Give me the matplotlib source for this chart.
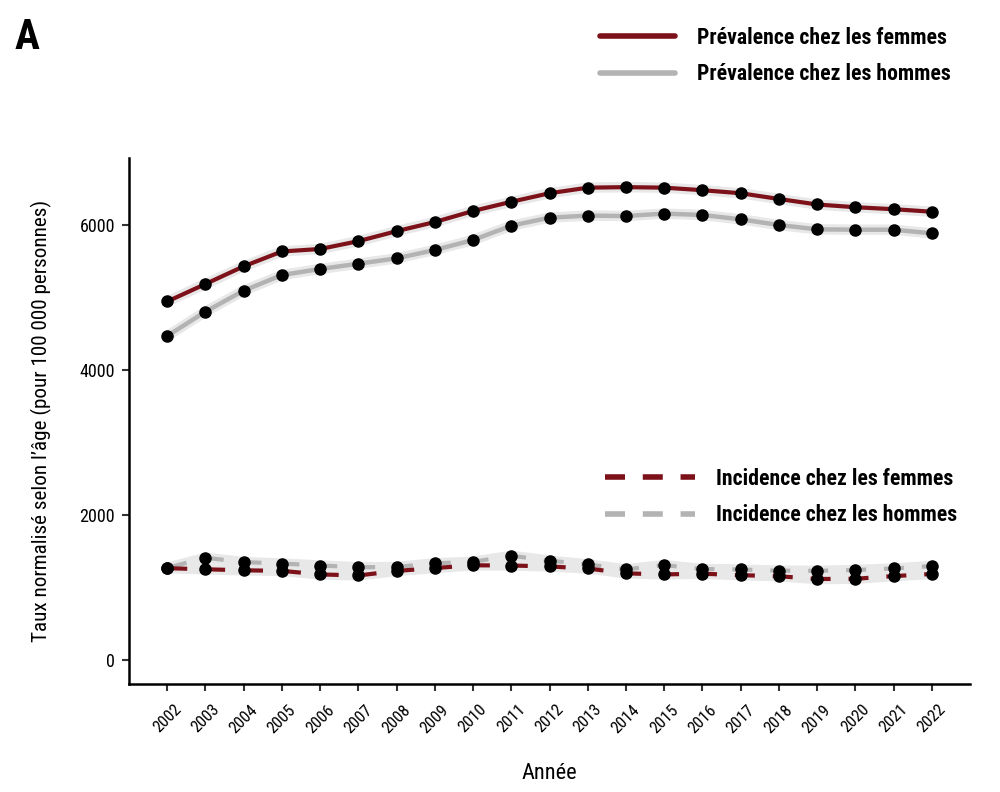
import numpy as np
import matplotlib
matplotlib.use('Agg')
import matplotlib.pyplot as plt
from matplotlib.lines import Line2D

plt.rcParams['font.family'] = ['Liberation Sans Narrow', 'Roboto Condensed',
                               'Open Sans Condensed', 'Lato', 'DejaVu Sans']

# data
years = list(range(2002, 2023))
prev_femmes = [4945, 5186, 5430, 5635, 5669, 5777, 5915, 6041, 6193, 6320, 6438,
               6515, 6522, 6515, 6480, 6438, 6359, 6283, 6245, 6218, 6183]
prev_hommes = [4469, 4805, 5094, 5310, 5393, 5466, 5540, 5655, 5793, 5990, 6101,
               6129, 6124, 6157, 6138, 6078, 6000, 5940, 5935, 5935, 5885]
inc_femmes = [1266, 1251, 1237, 1229, 1180, 1166, 1228, 1268, 1306, 1303, 1290,
              1262, 1195, 1180, 1190, 1170, 1155, 1117, 1120, 1157, 1186]
inc_hommes = [1270, 1410, 1350, 1330, 1303, 1279, 1283, 1333, 1354, 1437, 1370,
              1318, 1250, 1308, 1255, 1248, 1232, 1230, 1241, 1262, 1295]

rouge = '#7d1119'
gris = '#b3b3b3'
halo = '#e8e8e8'

fig = plt.figure(figsize=(10, 7.92), dpi=100)
ax = fig.add_axes([0.129, 0.1364, 0.841, 0.6641])

# light band behind every line
for vals in [prev_hommes, prev_femmes, inc_hommes, inc_femmes]:
    ax.plot(years, vals, color=halo, lw=7.5, solid_capstyle='butt', zorder=1)

ax.plot(years, prev_hommes, color=gris, lw=3.2, zorder=2)
ax.plot(years, prev_femmes, color=rouge, lw=3.0, zorder=3)
ax.plot(years, inc_hommes, color=gris, lw=3.0, dashes=(4.8, 4.3), zorder=2)
ax.plot(years, inc_femmes, color=rouge, lw=3.0, dashes=(4.8, 4.3), zorder=3)

for vals in [prev_hommes, prev_femmes, inc_hommes, inc_femmes]:
    ax.plot(years, vals, 'o', color='black', ms=8, zorder=4)

ax.set_xlim(2001, 2023)
ax.set_ylim(-331, 6924)
ax.set_xticks(years)
ax.set_xticklabels([str(y) for y in years], rotation=45, fontsize=12)
ax.set_yticks([0, 2000, 4000, 6000])
ax.tick_params(axis='y', labelsize=13, length=5, width=1.5, color='#333333', pad=5)
ax.tick_params(axis='x', length=5, width=1.5, color='#333333', pad=8)
for lbl in ax.get_xticklabels():
    lbl.set_ha('center')

for s in ['top', 'right']:
    ax.spines[s].set_visible(False)
for s in ['left', 'bottom']:
    ax.spines[s].set_linewidth(1.8)
    ax.spines[s].set_color('black')

ax.set_xlabel('Année', fontsize=16, labelpad=20)
ax.set_ylabel('Taux normalisé selon l\u2019âge (pour 100 000 personnes)', fontsize=15.2, labelpad=20)

# legends
h1 = [Line2D([], [], color=rouge, lw=4, solid_capstyle='round'),
      Line2D([], [], color=gris, lw=4, solid_capstyle='round')]
leg1 = fig.legend(h1, ['Prévalence chez les femmes', 'Prévalence chez les hommes'],
                  loc='upper left', bbox_to_anchor=(0.600, 0.966), frameon=False,
                  prop={'weight': 'bold', 'size': 15.7}, handlelength=3.44,
                  handletextpad=1.0, labelspacing=0.66, borderpad=0, borderaxespad=0)

h2 = [Line2D([], [], color=rouge, lw=4, dashes=(3.6, 3.2)),
      Line2D([], [], color=gris, lw=4, dashes=(3.6, 3.2))]
leg2 = fig.legend(h2, ['Incidence chez les femmes', 'Incidence chez les hommes'],
                  loc='upper left', bbox_to_anchor=(0.605, 0.409), frameon=False,
                  prop={'weight': 'bold', 'size': 15.7}, handlelength=4.13,
                  handletextpad=0.96, labelspacing=0.66, borderpad=0, borderaxespad=0)

fig.text(0.015, 0.978, 'A', fontsize=30, fontweight='bold', va='top', ha='left')

fig.savefig('out.png', dpi=100)
